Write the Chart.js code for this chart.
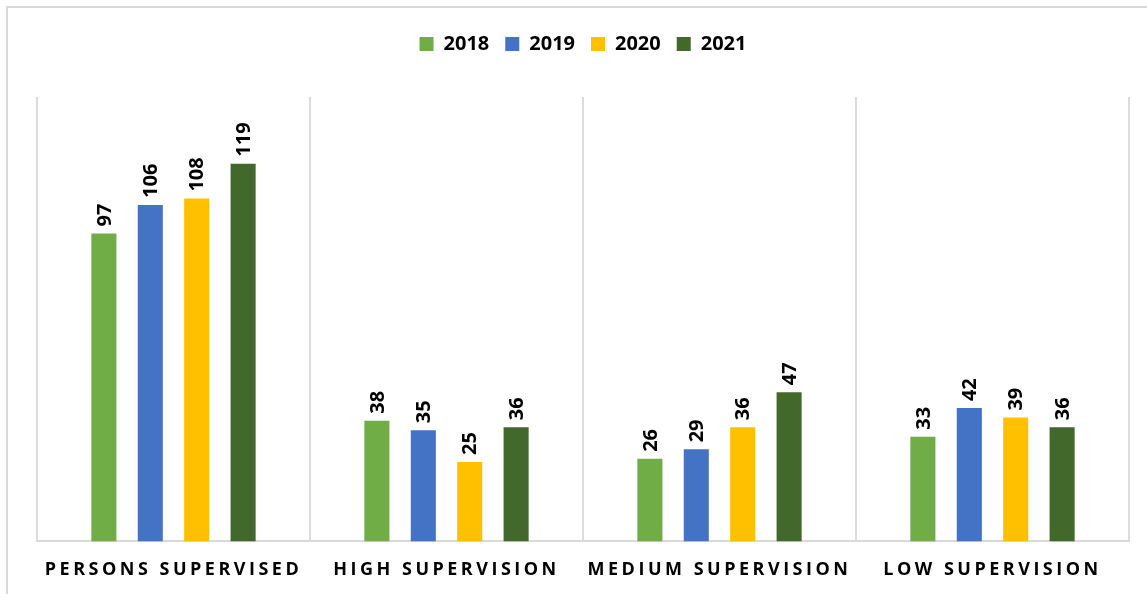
<!DOCTYPE html>
<html>
<head>
<meta charset="utf-8">
<script src="https://cdn.jsdelivr.net/npm/chart.js@4/dist/chart.umd.min.js"></script>
<style>
    html, body { margin: 0; padding: 0; background: #fff; overflow: hidden; }
    .frame {
        position: absolute; left: 6px; top: 6px; width: 1300px; height: 700px;
        border-left: 2px solid #d9d9d9; border-top: 2px solid #d9d9d9;
    }
    .wrap { position: absolute; left: 0; top: 0; width: 1147px; height: 594px; }
</style>
</head>
<body>
<div class="frame"></div>
<div class="wrap"><canvas id="supervisionChart" width="1147" height="594"></canvas></div>
<script>
document.addEventListener('DOMContentLoaded', function() {
    // Categorías y valores por año
    const categories = ['PERSONS SUPERVISED', 'HIGH SUPERVISION', 'MEDIUM SUPERVISION', 'LOW SUPERVISION'];
    const years = ['2018', '2019', '2020', '2021'];
    const values2018 = [97, 38, 26, 33];
    const values2019 = [106, 35, 29, 42];
    const values2020 = [108, 25, 36, 39];
    const values2021 = [119, 36, 47, 36];
    const colors = ['#70ad47', '#4472c4', '#ffc000', '#43682b'];

    const series = [values2018, values2019, values2020, values2021];

    // Etiquetas de valor verticales encima de cada barra
    const barLabels = {
        id: 'barLabels',
        beforeInit(chart) {
            // espacio extra debajo de la leyenda
            const legend = chart.legend;
            if (legend) {
                const fit = legend.fit;
                legend.fit = function() {
                    fit.call(this);
                    this.height += 33;
                };
            }
        },
        afterDatasetsDraw(chart) {
            const ctx = chart.ctx;
            ctx.save();
            ctx.font = 'bold 20px "Open Sans"';
            ctx.fillStyle = '#000';
            ctx.textAlign = 'left';
            ctx.textBaseline = 'middle';
            chart.data.datasets.forEach((ds, i) => {
                chart.getDatasetMeta(i).data.forEach((bar, j) => {
                    ctx.save();
                    ctx.translate(bar.x + 1, bar.y - 7);
                    ctx.rotate(-Math.PI / 2);
                    ctx.fillText(String(ds.data[j]), 0, 0);
                    ctx.restore();
                });
            });
            ctx.restore();
            // espaciado de letras para las etiquetas del eje x (z = 1)
            ctx.letterSpacing = '3.5px';
        },
        afterDraw(chart) {
            chart.ctx.letterSpacing = '0px';
        }
    };

    const ctx = document.getElementById('supervisionChart').getContext('2d');
    new Chart(ctx, {
        type: 'bar',
        data: {
            labels: categories,
            datasets: years.map((y, i) => ({
                label: y,
                data: series[i],
                backgroundColor: colors[i],
                borderWidth: 0,
                categoryPercentage: 0.68,
                barPercentage: 0.54
            }))
        },
        options: {
            responsive: false,
            animation: false,
            layout: {
                padding: { left: 37, right: 18, top: 18, bottom: -5 }
            },
            scales: {
                y: {
                    display: false,
                    min: 0,
                    max: 140
                },
                x: {
                    grid: {
                        offset: true,
                        color: '#dcdcdc',
                        lineWidth: 2,
                        drawTicks: false
                    },
                    border: { display: true, color: '#d9d9d9', width: 2 },
                    ticks: {
                        z: 1,
                        autoSkip: false,
                        maxRotation: 0,
                        padding: 18,
                        color: '#000',
                        font: { family: '"Open Sans"', size: 18, weight: 'bold' }
                    }
                }
            },
            plugins: {
                legend: {
                    position: 'top',
                    labels: {
                        boxWidth: 14,
                        boxHeight: 14,
                        padding: 16,
                        color: '#000',
                        font: { family: '"Open Sans"', size: 20, weight: 'bold' }
                    }
                },
                tooltip: { enabled: false }
            }
        },
        plugins: [barLabels]
    });
});
</script>
</body>
</html>
